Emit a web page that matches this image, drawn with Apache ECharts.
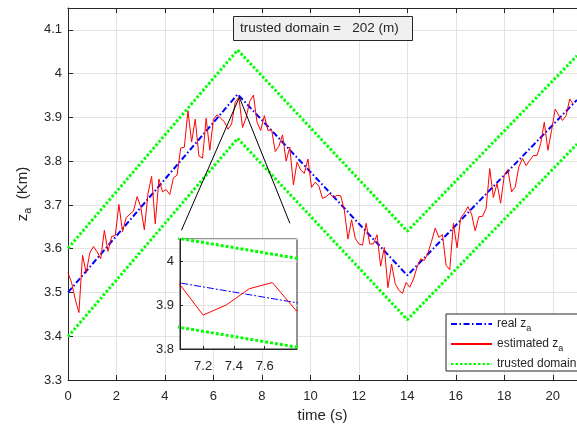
<!DOCTYPE html>
<html><head><meta charset="utf-8">
<script src="https://cdn.jsdelivr.net/npm/echarts@6/dist/echarts.min.js"></script>
<style>html,body{margin:0;padding:0;background:#fff}#c{width:577px;height:428px}</style>
</head><body><div id="c"></div>
<script>
// ---------- data ----------
const realT = [0, 7, 14, 21];
const realZ = [3.5, 3.953, 3.539, 3.94];
const upperZ = [3.601, 4.054, 3.640, 4.041];
const lowerZ = [3.399, 3.852, 3.438, 3.839];
const estStep = 0.15; // sampling period (s)
const estZ = [
 3.545,3.522,3.484,3.454,3.585,3.545,3.590,3.605,3.593,3.577,
 3.642,3.594,3.628,3.630,3.701,3.639,3.671,3.679,3.686,3.719,
 3.696,3.643,3.726,3.765,3.657,3.759,3.730,3.735,3.724,3.762,
 3.768,3.830,3.832,3.915,3.844,3.896,3.812,3.807,3.898,3.825,
 3.896,3.906,3.898,3.890,3.873,3.885,3.935,3.946,3.877,3.900,
 3.937,3.951,3.889,3.870,3.904,3.870,3.872,3.822,3.834,3.860,
 3.800,3.832,3.746,3.798,3.780,3.772,3.805,3.740,3.752,3.743,
 3.715,3.719,3.726,3.717,3.722,3.721,3.688,3.622,3.666,3.624,
 3.611,3.608,3.658,3.611,3.611,3.632,3.560,3.603,3.511,3.565,
 3.520,3.505,3.498,3.523,3.512,3.530,3.558,3.577,3.573,3.590,
 3.617,3.647,3.626,3.632,3.562,3.552,3.658,3.602,3.670,3.681,
 3.696,3.679,3.641,3.673,3.674,3.692,3.783,3.717,3.749,3.704,
 3.768,3.781,3.730,3.741,3.787,3.806,3.790,3.802,3.813,3.813,
 3.840,3.889,3.825,3.870,3.919,3.905,3.893,3.904,3.942,3.930
];
const linkT = [4.68, 7.07, 9.155];
const linkZ = [3.642, 3.946, 3.658];
const insetXTicks = [7.2, 7.4, 7.6];
const titleText = 'trusted domain =   202 (m)';
const legendNames = ['real z_a', 'estimated z_a', 'trusted domain'];

// ---------- build ----------
const FONT = '"Liberation Sans", Arial, Helvetica, sans-serif';
const INK = '#262626';
const GRIDC = '#e3e3e3';
const realData = realT.map((t, i) => [t, realZ[i]]);
const upperData = realT.map((t, i) => [t, upperZ[i]]);
const lowerData = realT.map((t, i) => [t, lowerZ[i]]);
const estData = estZ.map((z, i) => [+(i * estStep).toFixed(3), z]);
const linkData = linkT.map((t, i) => [t, linkZ[i]]);
const fmt = v => String(Math.round(v * 100) / 100);

const BLUE = '#0000ff', RED = '#ff0000', GREEN = '#00ff00';

function mk(name, data, color, width, type, xi, yi, z) {
  return {
    type: 'line', name, data, xAxisIndex: xi, yAxisIndex: yi, z,
    symbol: 'none', showSymbol: false, silent: true, animation: false,
    lineStyle: { color, width, type, cap: 'butt' }, itemStyle: { color },
    clip: true
  };
}

const chart = echarts.init(document.getElementById('c'));
chart.setOption({
  animation: false,
  backgroundColor: '#fff',
  textStyle: { fontFamily: FONT },
  title: {
    text: titleText, left: 233, top: 16,
    padding: [4, 14, 5, 7],
    backgroundColor: '#f0f0f0', borderColor: INK, borderWidth: 1,
    textStyle: { fontSize: 13.5, fontWeight: 'normal', color: INK, fontFamily: FONT, lineHeight: 16 }
  },
  legend: {
    data: legendNames, orient: 'vertical', left: 446, top: 314,
    padding: [4, 6, 1, 4], itemGap: 5, itemWidth: 41, itemHeight: 14,
    backgroundColor: '#fff', borderColor: INK, borderWidth: 1, borderRadius: 0,
    z: 20, selectedMode: false,
    itemStyle: { color: 'rgba(0,0,0,0)', borderWidth: 0, opacity: 0 },
    formatter: n => {
      if (n === 'real z_a') return '{t|real z}{s|a}';
      if (n === 'estimated z_a') return '{t|estimated z}{s|a}';
      return '{t|' + n + '}';
    },
    textStyle: {
      color: INK, fontFamily: FONT,
      rich: {
        t: { fontSize: 12, lineHeight: 18, verticalAlign: 'middle', color: INK, fontFamily: FONT },
        s: { fontSize: 9, lineHeight: 18, verticalAlign: 'bottom', color: INK, fontFamily: FONT }
      }
    }
  },
  grid: [
    { left: 68, top: 8, right: -5.5, bottom: 45, show: false },
    { left: 180, top: 239, width: 117, height: 110, show: true, backgroundColor: '#fff',
      borderColor: INK, borderWidth: 1, z: 5 }
  ],
  xAxis: [
    { type: 'value', gridIndex: 0, min: 0, max: 21, interval: 2, position: 'bottom',
      name: 'time (s)', nameLocation: 'middle', nameGap: 28,
      nameTextStyle: { fontSize: 15, color: INK, fontFamily: FONT },
      axisLine: { show: true, onZero: false, lineStyle: { color: INK, width: 1 } },
      axisTick: { show: true, inside: true, length: 5, lineStyle: { color: INK } },
      axisLabel: { fontSize: 13, color: INK, margin: 10, showMaxLabel: false, formatter: fmt, fontFamily: FONT },
      splitLine: { show: true, lineStyle: { color: GRIDC, width: 1 } } },
    { type: 'value', gridIndex: 0, min: 0, max: 21, interval: 2, position: 'top',
      axisLine: { show: true, onZero: false, lineStyle: { color: INK, width: 1 } },
      axisTick: { show: true, inside: true, length: 5, lineStyle: { color: INK } },
      axisLabel: { show: false }, splitLine: { show: false } },
    { type: 'value', gridIndex: 1, min: 7.05, max: 7.81, z: 6,
      axisLine: { show: true, onZero: false, lineStyle: { color: INK, width: 1 } },
      axisTick: { show: true, inside: true, length: 3, customValues: insetXTicks, lineStyle: { color: INK } },
      axisLabel: { fontSize: 13, color: INK, margin: 11, customValues: insetXTicks, formatter: fmt, fontFamily: FONT },
      splitLine: { show: true, lineStyle: { color: GRIDC, width: 1 } } }
  ],
  yAxis: [
    { type: 'value', gridIndex: 0, min: 3.3, max: 4.15, interval: 0.1,
      name: '{i|z}{s|a}{i|  (Km)}', nameLocation: 'middle', nameGap: 30,
      nameTextStyle: { color: INK, fontFamily: FONT,
        rich: { i: { fontSize: 15, lineHeight: 20, verticalAlign: 'middle', color: INK, fontFamily: FONT },
                s: { fontSize: 11, lineHeight: 20, verticalAlign: 'bottom', color: INK, fontFamily: FONT } } },
      axisLine: { show: true, onZero: false, lineStyle: { color: INK, width: 1 } },
      axisTick: { show: true, inside: true, length: 5, lineStyle: { color: INK } },
      axisLabel: { fontSize: 13, color: INK, margin: 6, showMaxLabel: false, formatter: fmt, fontFamily: FONT },
      splitLine: { show: true, lineStyle: { color: GRIDC, width: 1 } } },
    { type: 'value', gridIndex: 1, min: 3.8, max: 4.05, interval: 0.1, z: 6,
      axisLine: { show: true, onZero: false, lineStyle: { color: INK, width: 1 } },
      axisTick: { show: true, inside: true, length: 3, lineStyle: { color: INK } },
      axisLabel: { fontSize: 13, color: INK, margin: 6, showMaxLabel: false, formatter: fmt, fontFamily: FONT },
      splitLine: { show: true, lineStyle: { color: GRIDC, width: 1 } } }
  ],
  series: [
    mk('real z_a', realData, BLUE, 2, [6, 2.5, 1.5, 2.5], 0, 0, 2),
    mk('estimated z_a', estData, RED, 1, 'solid', 0, 0, 2),
    mk('trusted domain', upperData, GREEN, 3, [2.5, 2], 0, 0, 2),
    mk('trusted domain', lowerData, GREEN, 3, [2.5, 2], 0, 0, 2),
    mk('link', linkData, '#000', 1, 'solid', 0, 0, 2),
    mk('inset-real', realData, BLUE, 1, [7, 2, 2, 2], 2, 1, 8),
    mk('inset-est', estData, RED, 1, 'solid', 2, 1, 8),
    mk('inset-up', upperData, GREEN, 3, [3, 2], 2, 1, 8),
    mk('inset-low', lowerData, GREEN, 3, [3, 2], 2, 1, 8)
  ]
});
</script></body></html>
